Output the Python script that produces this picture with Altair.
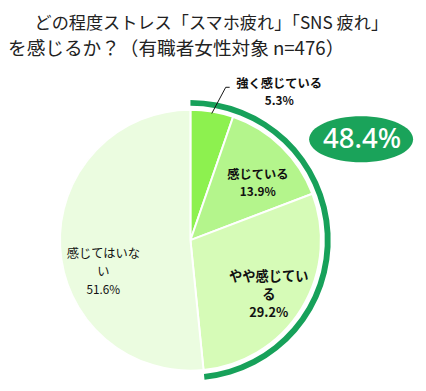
import altair as alt
import pandas as pd
import numpy as np

categories = ["強く感じている", "感じている", "やや感じている", "感じてはいない"]
values = [5.3, 13.9, 29.2, 51.6]
label_lines = [["強く感じている", "5.3%"], ["感じている", "13.9%"], ["やや感じてい", "る", "29.2%"], ["感じてはいな", "い", "51.6%"]]
colors = ["#8DF14F", "#B4F58C", "#D6FBB7", "#EBFCE0"]
title_lines = ["どの程度ストレス「スマホ疲れ」「SNS 疲れ」", "を感じるか？（有職者女性対象 n=476）"]

W, H = 418, 383
cx, cy = 186, 233
R = 133
FONT = "Noto Sans CJK JP"

df = pd.DataFrame({
    "cat": categories, "v": values, "idx": list(range(4)),
    "lab": ["|".join(l) for l in label_lines],
})

pie = alt.Chart(df).mark_arc(radius=R, stroke="white", strokeWidth=2).encode(
    theta=alt.Theta("v:Q", stack=True),
    order=alt.Order("idx:Q"),
    color=alt.Color("cat:N", scale=alt.Scale(domain=categories, range=colors), legend=None),
    x=alt.value(cx), y=alt.value(cy),
)

# ring marking the "feel stress" share
share = round(sum(values[:3]), 1)
ring_df = pd.DataFrame({"part": ["shown", "hidden"], "v": [share, round(100 - share, 1)], "o": [0, 1]})
ring = alt.Chart(ring_df).mark_arc(radius=143, radius2=137).encode(
    theta=alt.Theta("v:Q", stack=True),
    order=alt.Order("o:Q"),
    color=alt.Color("part:N", scale=alt.Scale(domain=["shown", "hidden"], range=["#17A15A", "#FFFFFF"]), legend=None),
    opacity=alt.Opacity("part:N", scale=alt.Scale(domain=["shown", "hidden"], range=[1, 0]), legend=None),
    x=alt.value(cx), y=alt.value(cy),
)

# idx: (radius, dx, dy, weight, size, line spacing)
label_specs = {
    0: (160, 64, 7, "bold", 12.5, 17.5),
    1: (90, 6, 7, "bold", 12.5, 17),
    2: (95, -1, 6, "bold", 13.5, 18),
    3: (89, 0, 28, "normal", 12.5, 18),
}
label_layers = []
for i, lines in enumerate(label_lines):
    r, dx, dy, wt, fs, lh = label_specs[i]
    n = len(lines)
    for j in range(n):
        off = (j - (n - 1) / 2) * lh
        label_layers.append(
            alt.Chart(df).transform_window(
                cum="sum(v)", sort=[{"field": "idx"}]
            ).transform_calculate(
                mid="datum.cum - datum.v / 2",
                t=f"split(datum.lab, '|')[{j}]",
            ).transform_filter(
                f"datum.idx == {i}"
            ).mark_text(
                radius=r, dx=dx, dy=dy + off, font=FONT,
                fontSize=fs - 0.5 if (j == n - 1 and n > 1) else fs,
                fontWeight=wt, color="#111", align="center", baseline="middle",
            ).encode(
                theta=alt.Theta("mid:Q", stack=None, scale=alt.Scale(domain=[0, 100])),
                text="t:N",
                x=alt.value(cx), y=alt.value(cy),
            )
        )

# leader line for the small slice
mid0 = np.deg2rad(values[0] / 2 / 100 * 360)
end_a = np.deg2rad(13.0)
x1, y1 = cx + 131 * np.sin(mid0), cy - 131 * np.cos(mid0)
x2, y2 = cx + 160 * np.sin(end_a), cy - 160 * np.cos(end_a)
lead_df = pd.DataFrame({"k": [0]})
leader1 = alt.Chart(lead_df).mark_rule(color="#111", strokeWidth=1).encode(
    x=alt.value(float(x1)), y=alt.value(float(y1)), x2=alt.value(float(x2)), y2=alt.value(float(y2)))
leader2 = alt.Chart(lead_df).mark_rule(color="#111", strokeWidth=1).encode(
    x=alt.value(float(x2)), y=alt.value(float(y2)), x2=alt.value(float(x2) + 4), y2=alt.value(float(y2)))

# badge
badge_df = pd.DataFrame({"t": [f"{share}%"]})
ellipse_path = "M -1 0 A 1 0.443 0 1 0 1 0 A 1 0.443 0 1 0 -1 0 Z"
badge = alt.Chart(badge_df).mark_point(
    shape=ellipse_path, size=106 * 106, filled=True, color="#1AA35A", opacity=1, strokeWidth=0
).encode(x=alt.value(360), y=alt.value(130))
badge_text = alt.Chart(badge_df).mark_text(
    font="Noto Sans", fontSize=28, fontWeight=500, color="white", align="center", baseline="middle"
).encode(text="t:N", x=alt.value(361), y=alt.value(131))

title_df = pd.DataFrame({"t": title_lines, "row": [0, 1]})
t1 = alt.Chart(title_df).transform_filter("datum.row == 0").mark_text(
    font=FONT, fontSize=17.5, color="#222", align="left", baseline="middle"
).encode(text="t:N", x=alt.value(27), y=alt.value(13))
t2 = alt.Chart(title_df).transform_filter("datum.row == 1").mark_text(
    font=FONT, fontSize=19, color="#222", align="left", baseline="middle"
).encode(text="t:N", x=alt.value(0), y=alt.value(38))

chart = alt.layer(
    pie, ring, *label_layers, leader1, leader2, badge, badge_text, t1, t2
).resolve_scale(theta="independent", color="independent", opacity="independent").properties(
    width=W, height=H, padding=0, autosize=alt.AutoSizeParams(type="none")
).configure_view(stroke=None)

chart.save("out.html", embed_options={"renderer": "svg", "actions": False})
